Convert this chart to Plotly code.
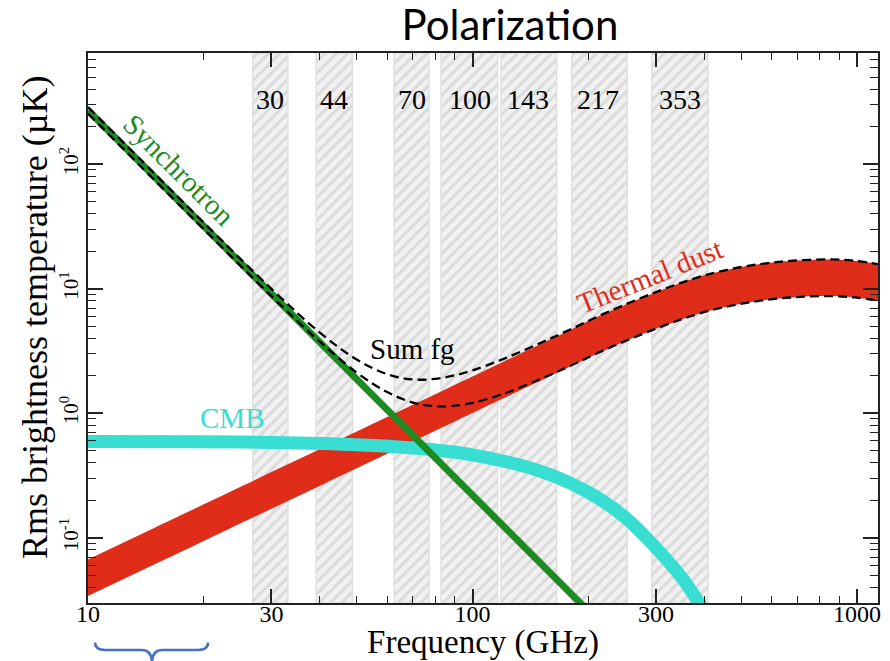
import math
import plotly.graph_objects as go

# ---------------- data ----------------
band_names = ['30', '44', '70', '100', '143', '217', '353']
band_lo = [26.8, 39.2, 62.5, 82.8, 118.6, 181.2, 292.4]
band_hi = [33.1, 48.7, 77.1, 116.3, 165.6, 252.7, 410.0]
band_label_freq = [29.7, 43.5, 69.5, 98.5, 139.6, 212.0, 346.8]

freq_fg = [10, 15, 20, 30, 40, 50, 60, 70, 80, 90, 100, 120, 150, 180, 220,
           300, 380, 460, 560, 680, 860, 1000, 1134]
dust_hi = [0.067, 0.1216, 0.1856, 0.337, 0.514, 0.714, 0.933, 1.170, 1.424,
           1.694, 1.977, 2.586, 3.59, 4.69, 6.30, 9.4, 12.2, 14.2, 15.8, 16.8,
           17.2, 16.7, 15.8]
dust_lo = [0.034, 0.0617, 0.0942, 0.171, 0.261, 0.362, 0.474, 0.594, 0.723,
           0.860, 1.004, 1.313, 1.822, 2.381, 3.198, 4.772, 6.193, 7.208,
           8.020, 8.528, 8.731, 8.477, 8.020]
sum_hi = [288.4, 82.4, 34.0, 9.99, 4.47, 2.70, 2.06, 1.87, 1.89, 2.02, 2.21,
          2.72, 3.66, 4.73, 6.32, 9.41, 12.2, 14.2, 15.8, 16.8, 17.2, 16.7, 15.8]
sum_lo = [255.7, 73.0, 30.1, 8.72, 3.78, 2.12, 1.48, 1.22, 1.14, 1.15, 1.21,
          1.43, 1.88, 2.41, 3.22, 4.78, 6.20, 7.21, 8.020, 8.528, 8.731,
          8.477, 8.020]

freq_sync = [10, 20, 30, 50, 70, 100, 150, 200]
sync = [272, 31.9, 9.10, 1.873, 0.662, 0.2195, 0.0626, 0.0258]

freq_cmb = [10, 20, 30, 50, 70, 100, 150, 200, 250, 300, 350, 400]
cmb = [0.594, 0.590, 0.582, 0.559, 0.526, 0.463, 0.343, 0.232, 0.145, 0.083,
       0.0479, 0.0259]

x_tickvals = [10, 30, 100, 300, 1000]
x_ticktext = ['10', '30', '100', '300', '1000']
x_minor = [20, 40, 50, 60, 70, 80, 90, 200, 400, 500, 600, 700, 800, 900]
y_tickvals = [0.1, 1, 10, 100]
y_ticktext = ['10<sup>-1</sup>', '10<sup>0</sup>', '10<sup>1</sup>', '10<sup>2</sup>']
y_minor = [m * d for d in (0.01, 0.1, 1, 10, 100) for m in range(2, 10)]

X_RANGE = [1.0, 3.0546]
Y_RANGE = [-1.524, 2.894]
Y_MIN, Y_MAX = 10 ** Y_RANGE[0], 10 ** Y_RANGE[1]

SERIF = 'Liberation Serif, Times New Roman, serif'
RED = '#df2d19'
GREEN = '#1e8a22'
CYAN = '#38ded2'

fig = go.Figure()

# hatched Planck frequency bands
for lo, hi in zip(band_lo, band_hi):
    fig.add_trace(go.Scatter(
        x=[lo, lo, hi, hi, lo], y=[Y_MIN, Y_MAX, Y_MAX, Y_MIN, Y_MIN],
        mode='lines', fill='toself', fillcolor='#f1f1f1',
        fillpattern=dict(shape='/', bgcolor='#f1f1f1', fgcolor='#c4c4c4',
                         size=8, solidity=0.36),
        line=dict(color='#e0e0e0', width=1.5), hoverinfo='skip'))

# thermal dust band
fig.add_trace(go.Scatter(x=freq_fg, y=dust_lo, mode='lines',
                         line=dict(color=RED, width=0, shape='spline')))
fig.add_trace(go.Scatter(x=freq_fg, y=dust_hi, mode='lines', fill='tonexty',
                         fillcolor=RED,
                         line=dict(color=RED, width=0, shape='spline')))

# CMB
fig.add_trace(go.Scatter(x=freq_cmb, y=cmb, mode='lines',
                         line=dict(color=CYAN, width=13, shape='spline')))

# synchrotron
fig.add_trace(go.Scatter(x=freq_sync, y=sync, mode='lines',
                         line=dict(color=GREEN, width=7)))

# sum of foregrounds
for ys in (sum_hi, sum_lo):
    fig.add_trace(go.Scatter(x=freq_fg, y=ys, mode='lines',
                             line=dict(color='black', width=2.3,
                                       dash='9px,5px', shape='spline')))

# band labels
for name, f in zip(band_names, band_label_freq):
    fig.add_annotation(x=math.log10(f), y=0.947, xref='x', yref='paper',
                       text=name, showarrow=False,
                       font=dict(family=SERIF, size=28, color='black'))

fig.add_annotation(x=1.2367, y=1.952, text='Synchrotron', showarrow=False,
                   textangle=45, font=dict(family=SERIF, size=29, color=GREEN))
fig.add_annotation(x=1.3745, y=-0.04, text='CMB', showarrow=False,
                   font=dict(family=SERIF, size=29, color=CYAN))
fig.add_annotation(x=1.8427, y=0.514, text='Sum fg', showarrow=False,
                   font=dict(family=SERIF, size=29, color='black'))
fig.add_annotation(x=2.4616, y=1.10, text='Thermal dust', showarrow=False,
                   textangle=-22, font=dict(family=SERIF, size=29, color=RED))

# y-axis title (placed as text so it can sit slightly above the centre)
fig.add_annotation(xref='paper', yref='paper', x=-0.067, y=0.52,
                   xanchor='center', yanchor='middle',
                   text='Rms brightness temperature (µK)', showarrow=False,
                   textangle=-90,
                   font=dict(family=SERIF, size=36, color='black'))

# brace below the axis
fig.add_shape(type='path', xref='paper', yref='paper',
              path=('M 0.0089,-0.072 Q 0.0089,-0.0855 0.022,-0.0855 '
                    'L 0.068,-0.0855 Q 0.081,-0.0855 0.081,-0.11 '
                    'Q 0.081,-0.0855 0.094,-0.0855 L 0.139,-0.0855 '
                    'Q 0.152,-0.0855 0.152,-0.072'),
              line=dict(color='#4472c4', width=2.5))

axis_common = dict(type='log', showline=True, linecolor='#222', linewidth=1.5,
                   mirror='allticks', ticks='inside', tickwidth=1.5,
                   tickcolor='#222', showgrid=False, zeroline=False,
                   automargin=False)

fig.update_layout(
    width=890, height=661,
    margin=dict(l=88, r=12, t=53, b=58),
    paper_bgcolor='white', plot_bgcolor='white',
    showlegend=False,
    title=dict(text='Polarization', x=0.573, y=0.962, xanchor='center',
               yanchor='middle', font=dict(family='Lato, Carlito, sans-serif',
                                           size=42, color='black')),
    xaxis=dict(**axis_common, range=X_RANGE, tickvals=x_tickvals,
               ticktext=x_ticktext, ticklen=14, ticklabelstandoff=-12,
               tickfont=dict(family=SERIF, size=24, color='black'),
               minor=dict(tickvals=x_minor, ticks='inside', ticklen=7,
                          tickwidth=1.2, tickcolor='#222', showgrid=False),
               title=dict(text='Frequency (GHz)', standoff=14,
                          font=dict(family=SERIF, size=33, color='black'))),
    yaxis=dict(**axis_common, range=Y_RANGE, tickvals=y_tickvals,
               ticktext=y_ticktext, ticklen=15, tickangle=-90,
               tickfont=dict(family=SERIF, size=21, color='black'),
               minor=dict(tickvals=y_minor, ticks='inside', ticklen=8,
                          tickwidth=1.2, tickcolor='#222', showgrid=False)),
)

fig.write_html('out.html')
